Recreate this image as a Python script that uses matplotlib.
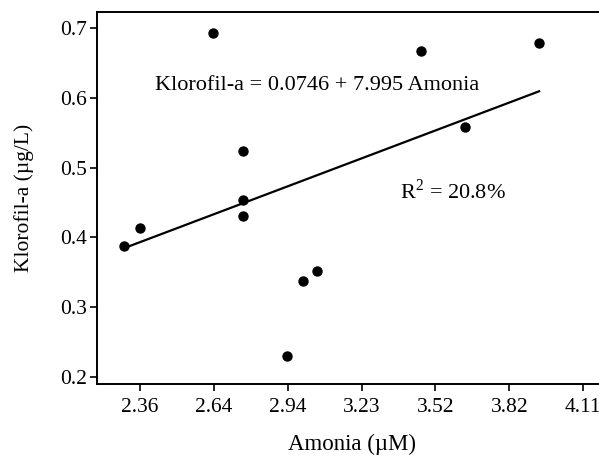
import matplotlib

matplotlib.use("Agg")
import matplotlib.pyplot as plt
import numpy as np

# values
amonia = [2.297, 2.360, 2.648, 2.767, 2.767, 2.767, 2.941, 3.004, 3.059, 3.470, 3.644, 3.936]
klorofil = [0.387, 0.414, 0.693, 0.524, 0.453, 0.431, 0.230, 0.337, 0.352, 0.667, 0.558, 0.679]
x_tick_labels = ["2.36", "2.64", "2.94", "3.23", "3.52", "3.82", "4.11"]
y_ticks = [0.2, 0.3, 0.4, 0.5, 0.6, 0.7]
equation_text = "Klorofil-a = 0.0746 + 7.995 Amonia"
r2_text = "R$^2$ = 20.8%"

plt.rcParams["font.family"] = ["Liberation Serif", "DejaVu Serif"]
plt.rcParams["mathtext.fontset"] = "custom"
plt.rcParams["mathtext.rm"] = "Liberation Serif"

fig = plt.figure(figsize=(5.99, 4.58), dpi=100)
ax = fig.add_axes([0.162, 0.1616, 0.85, 0.8124])

x = np.array(amonia)
y = np.array(klorofil)
slope, intercept = np.polyfit(x, y, 1)
line_x = np.array([x.min(), x.max()])
ax.plot(line_x, intercept + slope * line_x, color="black", linewidth=1.6, zorder=2)
ax.scatter(x, y, s=42, color="black", zorder=3)

ax.text(2.419, 0.617, equation_text, fontsize=16, va="center", ha="left")
ax.text(3.387, 0.466, r2_text, fontsize=16, va="center", ha="left")

x_ticks = np.linspace(2.36, 4.11, len(x_tick_labels))
ax.set_xticks(x_ticks)
ax.set_xticklabels(x_tick_labels)
ax.set_yticks(y_ticks)
ax.set_yticklabels([f"{v:.1f}" for v in y_ticks])
ax.set_xlim(2.19, 4.201)
ax.set_ylim(0.19, 0.723)
ax.tick_params(labelsize=15.5, length=5, width=1.2, direction="out")
ax.tick_params(axis="y", pad=2)
ax.tick_params(axis="x", pad=5)

for side in ["left", "bottom", "top"]:
    ax.spines[side].set_linewidth(1.4)
ax.spines["right"].set_visible(False)

ax.set_xlabel("Amonia (\u00b5M)", fontsize=16.5, labelpad=12)
ax.set_ylabel("Klorofil-a (\u00b5g/L)", fontsize=15.5, labelpad=19)

fig.savefig("out.png", dpi=100)
plt.close(fig)
